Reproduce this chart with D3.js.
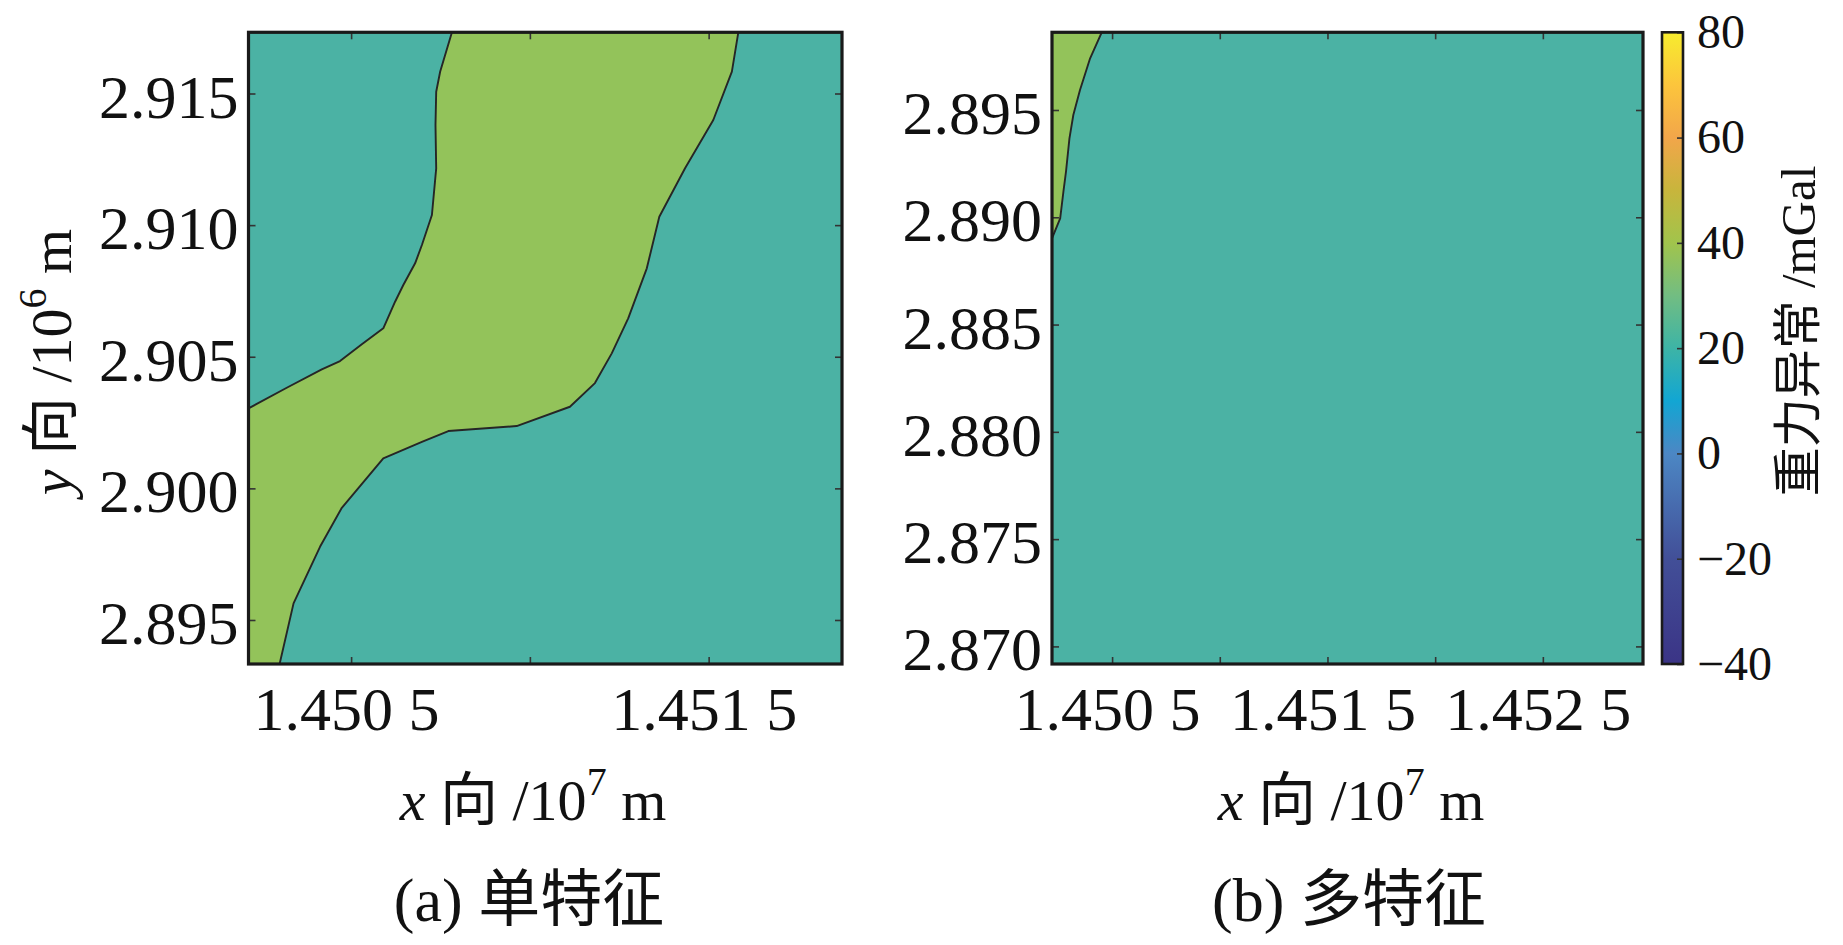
<!DOCTYPE html>
<html>
<head>
<meta charset="utf-8">
<script src="https://cdn.jsdelivr.net/npm/d3@7"></script>
<style>
  body { margin: 0; background: #fff; }
  svg { display: block; }
  text { font-family: 'Liberation Serif', 'Times New Roman', 'Noto Sans CJK SC', serif; fill: #111; }
</style>
</head>
<body>
<div id="chart"></div>
<script>
  // panel (a) single feature: the green band lies between two contour lines
  var aUpperX = [1.450782, 1.450749, 1.450738, 1.450736, 1.450738, 1.450726, 1.450698, 1.450679, 1.450646, 1.450623, 1.450590, 1.450530, 1.450469, 1.450418, 1.450320, 1.450213];
  var aUpperY = [2.917325, 2.915828, 2.915068, 2.913803, 2.912158, 2.910384, 2.909244, 2.908549, 2.907724, 2.907090, 2.906079, 2.905471, 2.904837, 2.904521, 2.903822, 2.903039];
  var aLowerX = [1.451583, 1.451565, 1.451513, 1.451434, 1.451362, 1.451327, 1.451275, 1.451229, 1.451182, 1.451112, 1.450963, 1.450772, 1.450698, 1.450590, 1.450474, 1.450413, 1.450339, 1.450300];
  var aLowerY = [2.917325, 2.915828, 2.913993, 2.912158, 2.910319, 2.908359, 2.906459, 2.905129, 2.904000, 2.903100, 2.902367, 2.902177, 2.901770, 2.901140, 2.899263, 2.897781, 2.895630, 2.893328];

  // panel (b) multi feature: only a small green corner top left
  var bEdgeX = [1.450452, 1.450398, 1.450351, 1.450320, 1.450302, 1.450286, 1.450274, 1.450259, 1.450221];
  var bEdgeY = [2.898621, 2.897409, 2.895932, 2.894767, 2.893681, 2.892125, 2.891193, 2.889953, 2.889021];

  // axis extents (x in 10^7 m, y in 10^6 m)
  var aXDomain = [1.450213, 1.451873];
  var aYDomain = [2.893328, 2.917325];
  var bXDomain = [1.450221, 1.452965];
  var bYDomain = [2.869180, 2.898621];

  // ticks and labels
  var aXTicks = [1.4505, 1.4510, 1.4515];
  var aXLabels = ["1.450 5", "", "1.451 5"];
  var bXTicks = [1.4505, 1.4510, 1.4515, 1.4520, 1.4525];
  var bXLabels = ["1.450 5", "", "1.451 5", "", "1.452 5"];
  var aYTicks = [2.895, 2.900, 2.905, 2.910, 2.915];
  var bYTicks = [2.870, 2.875, 2.880, 2.885, 2.890, 2.895];

  // fill colours of the two contour bands
  var bandLow = "#4bb2a4";
  var bandHigh = "#93c35a";

  // colour bar
  var cbarDomain = [-40, 80];
  var cbarTicks = [-40, -20, 0, 20, 40, 60, 80];
  var cbarStopValues = [-40, -20, 0, 10, 20, 30, 40, 50, 60, 70, 80];
  var cbarStopColors = ["#3b3486", "#424f98", "#4c87c4", "#12a6d3", "#3db4a6", "#72bd82", "#a1c44c", "#c8b53c", "#f2a64a", "#fcc53c", "#f7ec2e"];

  var w = 1843;
  var h = 945;
  var svg = d3.select("#chart").append("svg").attr("width", w).attr("height", h);

  var plotTop = 32.3, plotBottom = 664;

  function fmtY(d) { return d3.format(".3f")(d); }

  function drawPanel(p) {
    var x = d3.scaleLinear().domain(p.xDomain).range([p.left, p.right]);
    var y = d3.scaleLinear().domain(p.yDomain).range([plotBottom, plotTop]);
    var line = d3.line().x(function(d){ return x(d[0]); }).y(function(d){ return y(d[1]); });

    svg.append("clipPath").attr("id", p.id + "clip")
      .append("rect").attr("x", p.left).attr("y", plotTop)
      .attr("width", p.right - p.left).attr("height", plotBottom - plotTop);

    var g = svg.append("g").attr("clip-path", "url(#" + p.id + "clip)");

    g.append("rect")
      .attr("x", x(p.xDomain[0])).attr("y", y(p.yDomain[1]))
      .attr("width", x(p.xDomain[1]) - x(p.xDomain[0]))
      .attr("height", y(p.yDomain[0]) - y(p.yDomain[1]))
      .attr("fill", bandLow);

    g.append("path").attr("d", line(p.green) + "Z").attr("fill", bandHigh);

    p.lines.forEach(function(l){
      g.append("path").attr("d", line(l)).attr("fill", "none")
        .attr("stroke", "#262626").attr("stroke-width", 1.9).attr("stroke-linejoin", "round");
    });

    // axes, ticks pointing inside
    var labelMap = {};
    p.xTicks.forEach(function(t, i){ labelMap[t] = p.xLabels[i]; });

    var xb = svg.append("g").attr("transform", "translate(0," + plotBottom + ")")
      .call(d3.axisBottom(x).tickValues(p.xTicks).tickSize(-7).tickPadding(22)
        .tickFormat(function(d){ return labelMap[d]; }));
    var xt = svg.append("g").attr("transform", "translate(0," + plotTop + ")")
      .call(d3.axisTop(x).tickValues(p.xTicks).tickSize(-7).tickFormat(""));
    var yl = svg.append("g").attr("transform", "translate(" + p.left + ",0)")
      .call(d3.axisLeft(y).tickValues(p.yTicks).tickSize(-7).tickPadding(10).tickFormat(fmtY));
    var yr = svg.append("g").attr("transform", "translate(" + p.right + ",0)")
      .call(d3.axisRight(y).tickValues(p.yTicks).tickSize(-7).tickFormat(""));

    [xb, xt, yl, yr].forEach(function(a){
      a.select(".domain").remove();
      a.attr("font-family", null).attr("font-size", null);
      a.selectAll(".tick line").attr("stroke", "#333").attr("stroke-width", 1.6);
      a.selectAll(".tick text").style("font-size", "62px").attr("fill", "#111");
    });
    yl.selectAll(".tick text").attr("dy", "0.38em");
    xb.selectAll(".tick text").attr("dx", -5);

    svg.append("rect")
      .attr("x", p.left).attr("y", plotTop)
      .attr("width", p.right - p.left).attr("height", plotBottom - plotTop)
      .attr("fill", "none").attr("stroke", "#1a1a1a").attr("stroke-width", 3.2);

    // x title
    var xt2 = svg.append("text").attr("x", p.xTitleX).attr("y", 820)
      .attr("text-anchor", "middle").style("font-size", "58px");
    xt2.append("tspan").attr("font-style", "italic").text("x");
    xt2.append("tspan").text(" 向 /10");
    xt2.append("tspan").attr("dy", -25).style("font-size", "40px").text("7");
    xt2.append("tspan").attr("dy", 25).text(" m");

    // caption
    svg.append("text").attr("x", p.capX).attr("y", 921)
      .attr("text-anchor", "middle").style("font-size", "62px").text(p.caption);
  }

  var aUpper = aUpperX.map(function(v, i){ return [v, aUpperY[i]]; });
  var aLower = aLowerX.map(function(v, i){ return [v, aLowerY[i]]; });
  var aGreen = aUpper.concat([[aXDomain[0], aYDomain[0]]], aLower.slice().reverse());

  drawPanel({
    id: "a", left: 248.5, right: 842,
    xDomain: aXDomain, yDomain: aYDomain,
    xTicks: aXTicks, xLabels: aXLabels, yTicks: aYTicks,
    green: aGreen, lines: [aUpper, aLower],
    xTitleX: 533, capX: 529, caption: "(a) 单特征"
  });

  var bEdge = bEdgeX.map(function(v, i){ return [v, bEdgeY[i]]; });
  var bGreen = bEdge.concat([[bXDomain[0], bYDomain[1]]]);

  drawPanel({
    id: "b", left: 1052, right: 1643,
    xDomain: bXDomain, yDomain: bYDomain,
    xTicks: bXTicks, xLabels: bXLabels, yTicks: bYTicks,
    green: bGreen, lines: [bEdge],
    xTitleX: 1351, capX: 1349, caption: "(b) 多特征"
  });

  // y title of panel a
  var yt = svg.append("text").attr("transform", "translate(71,362) rotate(-90)")
    .attr("text-anchor", "middle").style("font-size", "58px");
  yt.append("tspan").attr("font-style", "italic").text("y");
  yt.append("tspan").text(" 向 /10");
  yt.append("tspan").attr("dy", -25).style("font-size", "40px").text("6");
  yt.append("tspan").attr("dy", 25).text(" m");

  // colour bar
  var cbLeft = 1662, cbRight = 1683;
  var cy = d3.scaleLinear().domain(cbarDomain).range([plotBottom, plotTop]);
  var grad = svg.append("defs").append("linearGradient").attr("id", "cbgrad")
    .attr("x1", 0).attr("y1", 1).attr("x2", 0).attr("y2", 0);
  cbarStopValues.forEach(function(v, i){
    grad.append("stop")
      .attr("offset", (v - cbarDomain[0]) / (cbarDomain[1] - cbarDomain[0]))
      .attr("stop-color", cbarStopColors[i]);
  });
  svg.append("rect").attr("x", cbLeft).attr("y", plotTop)
    .attr("width", cbRight - cbLeft).attr("height", plotBottom - plotTop)
    .attr("fill", "url(#cbgrad)");

  var ca = svg.append("g").attr("transform", "translate(" + cbRight + ",0)")
    .call(d3.axisRight(cy).tickValues(cbarTicks).tickSize(-6).tickPadding(14)
      .tickFormat(function(d){ return d < 0 ? "\u2212" + Math.abs(d) : d; }));
  ca.select(".domain").remove();
  ca.attr("font-family", null).attr("font-size", null);
  ca.selectAll(".tick line").attr("stroke", "#333").attr("stroke-width", 1.6);
  ca.selectAll(".tick text").style("font-size", "48px").attr("fill", "#111");

  svg.append("rect").attr("x", cbLeft).attr("y", plotTop)
    .attr("width", cbRight - cbLeft).attr("height", plotBottom - plotTop)
    .attr("fill", "none").attr("stroke", "#1a1a1a").attr("stroke-width", 2.6);

  svg.append("text").attr("transform", "translate(1815,331) rotate(-90)")
    .attr("text-anchor", "middle").style("font-size", "49px").text("重力异常 /mGal");
</script>
</body>
</html>
